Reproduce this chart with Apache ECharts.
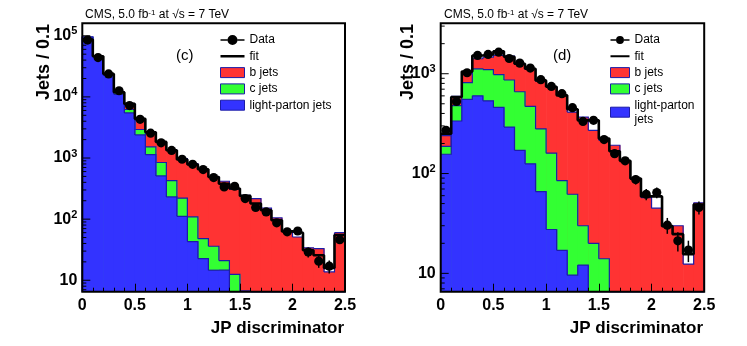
<!DOCTYPE html>
<html>
<head>
<meta charset="utf-8">
<script src="https://cdn.jsdelivr.net/npm/echarts@6/dist/echarts.min.js"></script>
<style>
html, body { margin: 0; padding: 0; background: #fff; }
#chart { width: 747px; height: 346px; }
</style>
</head>
<body>
<div id="chart"></div>
<script>
// bins of JP discriminator, width 0.1
var binEdges = [0, 0.1, 0.2, 0.3, 0.4, 0.5, 0.6, 0.7, 0.8, 0.9, 1.0, 1.1, 1.2, 1.3, 1.4, 1.5, 1.6, 1.7, 1.8, 1.9, 2.0, 2.1, 2.2, 2.3, 2.4, 2.5];
var xTicks = [0, 0.5, 1, 1.5, 2, 2.5];

// panel (c)
var cData  = [85000, 44000, 23800, 12600, 7200, 4300, 2550, 1770, 1330, 955, 790, 646, 479, 336, 345, 217, 155, 131, 87, 62, 64, 29, 20.5, 17, 46];
var cFit   = [87000, 46300, 23800, 11900, 7680, 4370, 2640, 1835, 1340, 945, 783, 656, 490, 380, 317, 240, 180, 140, 96, 63, 60, 31, 25.6, 15.9, 55];
var cLight = [95000, 45000, 22500, 11000, 5470, 2390, 1140, 510, 231, 111, 43, 22.6, 14.6, 14.6, 0, 0, 0, 0, 0, 0, 0, 0, 0, 0, 0];
var cCjet  = [0, 500, 600, 800, 750, 540, 380, 334, 197, 109, 66, 25.4, 21.4, 6.4, 12.5, 6.7, 0, 0, 0, 0, 0, 0, 0, 0, 0];
var cBjet  = [0, 0, 300, 300, 1460, 1440, 1120, 991, 912, 760, 701, 601, 454, 396, 297, 239, 217, 152, 105, 63, 51, 34, 33, 13.7, 60];

// panel (d)
var dData  = [271, 528, 1023, 1524, 1560, 1644, 1420, 1277, 1138, 871, 746, 631, 457, 333, 341, 219, 158, 134, 87, 62, 64.6, 30.4, 21.2, 17.1, 45.7];
var dFit   = [250, 585, 1050, 1520, 1560, 1680, 1480, 1260, 1120, 857, 740, 607, 440, 341, 341, 224, 167, 134, 89, 59, 59, 29.7, 24.7, 15.6, 49];
var dLight = [156, 336, 553, 600, 535, 460, 292, 171, 125, 66, 27.5, 17, 9.6, 12.1, 0, 0, 0, 0, 0, 0, 0, 0, 0, 0, 0];
var dCjet  = [31, 144, 262, 520, 565, 520, 573, 489, 345, 214, 132.5, 68, 52.4, 17.9, 20, 14, 0, 0, 0, 0, 0, 0, 0, 0, 0];
var dBjet  = [53, 113, 185, 293, 366, 544, 635, 579, 634, 563, 575, 522, 351, 338, 251, 201, 192, 134, 89, 57.5, 45, 30, 30, 12.4, 51];

var FONT = '"Liberation Sans", Arial, Helvetica, sans-serif';
var OUTLINE = '#1c1ca8';
var RED = '#ff3333', GREEN = '#33ff33', BLUE = '#3333ff';

var chart = echarts.init(document.getElementById('chart'));

function addUp(a, b) {
    return a.map(function (v, i) { return v + b[i]; });
}

// stacked hist: each series filled from the bottom up to its cumulative level
function stepData(top) {
    return top.map(function (v, i) {
        return [binEdges[i], v, binEdges[i + 1], i + 1 < top.length ? top[i + 1] : 0];
    });
}

function renderStep(params, api) {
    var cs = params.coordSys;
    var bottom = cs.y + cs.height;
    function py(v) {
        if (!(v > 0)) return bottom;
        var p = api.coord([0, v])[1];
        return Math.max(cs.y, Math.min(bottom, p));
    }
    var xa = api.coord([api.value(0), 10])[0];
    var xb = api.coord([api.value(2), 10])[0];
    var yt = py(api.value(1));
    var yn = py(api.value(3));
    var pts = [[xa, yt], [xb, yt], [xb, yn]];
    if (params.dataIndexInside === 0) pts.unshift([xa, bottom]);
    return {
        type: 'group',
        children: [
            {type: 'rect', z2: 0, shape: {x: xa, y: yt, width: xb - xa + 0.6, height: bottom - yt},
                style: {fill: api.visual('color')}},
            {type: 'polyline', z2: 1, shape: {points: pts},
                style: {stroke: OUTLINE, lineWidth: 1.2, fill: null}}
        ]
    };
}

function renderPoint(params, api) {
    var cs = params.coordSys;
    var x = api.value(0), v = api.value(1), e = api.value(2);
    var p = api.coord([x, v]);
    var lo = Math.min(cs.y + cs.height, api.coord([x, Math.max(v - e, 1e-3)])[1]);
    var hi = Math.max(cs.y, api.coord([x, v + e])[1]);
    return {
        type: 'group',
        children: [
            {type: 'line', shape: {x1: p[0], y1: lo, x2: p[0], y2: hi}, style: {stroke: '#000', lineWidth: 1.5}},
            {type: 'circle', shape: {cx: p[0], cy: p[1], r: 4.6}, style: {fill: '#000'}}
        ]
    };
}

function renderTick(params, api) {
    var cs = params.coordSys;
    var y = api.coord([0.5, api.value(1)])[1];
    var len = api.value(2) ? 8 : 4;
    return {type: 'line', shape: {x1: cs.x, y1: y, x2: cs.x + len, y2: y}, style: {stroke: '#000', lineWidth: 1}};
}

function logTicks(lo, hi) {
    var out = [];
    for (var e = 0; e <= 6; e++) {
        for (var m = 1; m <= 9; m++) {
            var v = m * Math.pow(10, e);
            if (v >= lo && v <= hi) out.push([0.5, v, m === 1 ? 1 : 0]);
        }
    }
    return out;
}

function pointData(vals) {
    return vals.map(function (v, i) {
        return [(binEdges[i] + binEdges[i + 1]) / 2, v, Math.sqrt(v)];
    });
}

function fitData(vals) {
    var d = vals.map(function (v, i) { return [binEdges[i], v]; });
    d.push([binEdges[binEdges.length - 1], vals[vals.length - 1]]);
    return d;
}

function panelSeries(idx, data, fit, light, cj, bj, ymin, ymax) {
    var lc = addUp(light, cj);
    var tot = addUp(lc, bj);
    var ax = {xAxisIndex: idx, yAxisIndex: idx};
    return [
        Object.assign({type: 'custom', name: 'b jets', z: 2, renderItem: renderStep,
            itemStyle: {color: RED}, encode: {x: 0, y: 1}, data: stepData(tot)}, ax),
        Object.assign({type: 'custom', name: 'c jets', z: 3, renderItem: renderStep,
            itemStyle: {color: GREEN}, encode: {x: 0, y: 1}, data: stepData(lc)}, ax),
        Object.assign({type: 'custom', name: 'light-parton jets', z: 4, renderItem: renderStep,
            itemStyle: {color: BLUE}, encode: {x: 0, y: 1}, data: stepData(light)}, ax),
        Object.assign({type: 'line', name: 'fit', z: 5, step: 'end', symbol: 'none',
            lineStyle: {color: '#000', width: 2.6}, itemStyle: {color: '#000'}, data: fitData(fit)}, ax),
        Object.assign({type: 'custom', name: 'Data', z: 6, renderItem: renderPoint,
            itemStyle: {color: '#000'}, encode: {x: 0, y: 1}, data: pointData(data)}, ax),
        Object.assign({type: 'custom', z: 7, renderItem: renderTick, silent: true,
            encode: {x: 0, y: 1}, data: logTicks(ymin, ymax)}, ax)
    ];
}

function yAxisOpt(idx, ymin, ymax) {
    return {
        type: 'log', logBase: 10, gridIndex: idx, min: ymin, max: ymax,
        axisLine: {show: false}, axisTick: {show: false}, splitLine: {show: false},
        axisLabel: {
            margin: 5, color: '#000',
            formatter: function (v) {
                var l = Math.log10(v), e = Math.round(l);
                if (Math.abs(l - e) > 1e-6) return '';
                if (e === 1) return '{b|10}';
                return '{b|10}{s|' + e + '}';
            },
            rich: {
                b: {fontSize: 16, fontWeight: 'bold', fontFamily: FONT, color: '#000', lineHeight: 20},
                s: {fontSize: 11, fontWeight: 'bold', fontFamily: FONT, color: '#000', lineHeight: 11, verticalAlign: 'top'}
            }
        }
    };
}

function xAxisOpt(idx) {
    return {
        type: 'value', gridIndex: idx, min: 0, max: 2.5, interval: 0.5, z: 21,
        axisLine: {show: false}, splitLine: {show: false},
        axisTick: {show: true, inside: true, length: 8, lineStyle: {color: '#000', width: 1}},
        minorTick: {show: true, splitNumber: 5, length: 4, lineStyle: {color: '#000', width: 1}},
        axisLabel: {margin: 6, color: '#000', fontSize: 16, fontWeight: 'bold', fontFamily: FONT,
            formatter: function (v) { return xTicks.indexOf(v) >= 0 ? String(v) : ''; }}
    };
}

// legend symbols, drawn in a 24 x 10 box
var dataIcon = 'path://M0,4.2 L7,4.2 L7,5.8 L0,5.8 Z M17,4.2 L24,4.2 L24,5.8 L17,5.8 Z M7,5 A5,5 0 1 1 17,5 A5,5 0 1 1 7,5 Z';
var fitIcon = 'path://M0,3.8 L24,3.8 L24,6.2 L0,6.2 Z M0,0 L0.01,0 L0.01,0.01 Z M0,10 L0.01,10 L0.01,9.99 Z';
function legendOpt(left, itemWidth, wrap) {
    return {
        left: left, top: 28, orient: 'vertical', selectedMode: false,
        itemWidth: itemWidth, itemHeight: 10, itemGap: 2.3,
        textStyle: {fontSize: 12, fontFamily: FONT, color: '#000', lineHeight: 14},
        formatter: function (name) {
            return (wrap && name === 'light-parton jets') ? 'light-parton\njets' : name;
        },
        data: [
            {name: 'Data', icon: dataIcon},
            {name: 'fit', icon: fitIcon},
            {name: 'b jets', icon: 'rect', itemStyle: {borderColor: OUTLINE, borderWidth: 1}},
            {name: 'c jets', icon: 'rect', itemStyle: {borderColor: OUTLINE, borderWidth: 1}},
            {name: 'light-parton jets', icon: 'rect', itemStyle: {borderColor: OUTLINE, borderWidth: 1}}
        ]
    };
}

function cmsTitle(left) {
    return {
        text: 'CMS, 5.0 fb{sup|-1} at √s = 7 TeV', left: left, top: 4,
        textStyle: {fontSize: 12, fontWeight: 'normal', fontFamily: FONT, color: '#000',
            rich: {sup: {fontSize: 8, fontFamily: FONT, color: '#000', verticalAlign: 'top', lineHeight: 8}}}
    };
}

var C_MIN = 6.5, C_MAX = 1.6e5, D_MIN = 6.55, D_MAX = 3200;

var option = {
    animation: false,
    backgroundColor: '#fff',
    title: [
        cmsTitle(80),
        cmsTitle(439),
        {text: '(c)', left: 171, top: 43, textStyle: {fontSize: 15, fontWeight: 'normal', fontFamily: FONT, color: '#000'}},
        {text: '(d)', left: 548, top: 43, textStyle: {fontSize: 15, fontWeight: 'normal', fontFamily: FONT, color: '#000'}}
    ],
    legend: [legendOpt(215, 24, false), legendOpt(605, 19, true)],
    grid: [
        {left: 82.3, top: 23.3, width: 262.7, height: 268.4, show: true, z: 20,
            backgroundColor: 'transparent', borderColor: '#000', borderWidth: 2},
        {left: 440.7, top: 23.3, width: 263.5, height: 268.4, show: true, z: 20,
            backgroundColor: 'transparent', borderColor: '#000', borderWidth: 2}
    ],
    xAxis: [xAxisOpt(0), xAxisOpt(1)],
    yAxis: [yAxisOpt(0, C_MIN, C_MAX), yAxisOpt(1, D_MIN, D_MAX)],
    graphic: [
        {type: 'text', x: 44, y: 24, rotation: Math.PI / 2,
            style: {text: 'Jets / 0.1', font: 'bold 18px ' + FONT, align: 'right', verticalAlign: 'middle', fill: '#000'}},
        {type: 'text', x: 408, y: 24, rotation: Math.PI / 2,
            style: {text: 'Jets / 0.1', font: 'bold 18px ' + FONT, align: 'right', verticalAlign: 'middle', fill: '#000'}},
        {type: 'text', x: 344, y: 328,
            style: {text: 'JP discriminator', font: 'bold 17px ' + FONT, align: 'right', verticalAlign: 'middle', fill: '#000'}},
        {type: 'text', x: 703, y: 328,
            style: {text: 'JP discriminator', font: 'bold 17px ' + FONT, align: 'right', verticalAlign: 'middle', fill: '#000'}}
    ],
    series: panelSeries(0, cData, cFit, cLight, cCjet, cBjet, C_MIN, C_MAX)
        .concat(panelSeries(1, dData, dFit, dLight, dCjet, dBjet, D_MIN, D_MAX))
};

chart.setOption(option);
</script>
</body>
</html>
